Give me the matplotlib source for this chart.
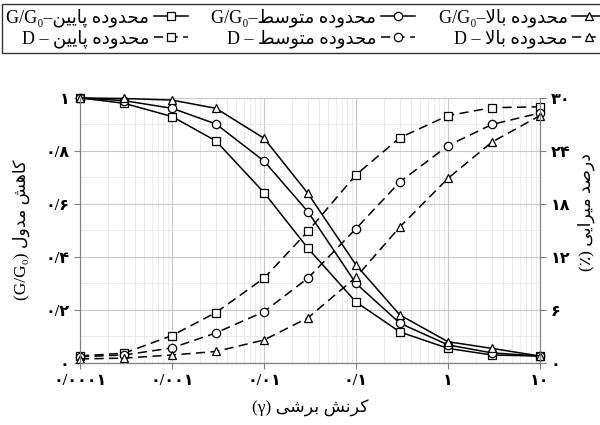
import numpy as np
import matplotlib
matplotlib.use("Agg")
import matplotlib.pyplot as plt
from matplotlib.ticker import LogLocator, NullFormatter

plt.rcParams['font.family'] = ['Liberation Serif', 'DejaVu Sans']

# کرنش برشی و مقادیر خوانده شده از نمودار
strain = [0.0001, 0.0003, 0.001, 0.003, 0.01, 0.03, 0.1, 0.3, 1, 3, 10]
gg0_low = [1.0, 0.98, 0.93, 0.838, 0.643, 0.433, 0.23, 0.117, 0.055, 0.03, 0.026]
gg0_mid = [1.0, 0.99, 0.961, 0.902, 0.762, 0.571, 0.30, 0.15, 0.068, 0.038, 0.026]
gg0_high = [1.0, 0.998, 0.992, 0.961, 0.848, 0.64, 0.37, 0.181, 0.08, 0.055, 0.026]
damp_low = [0.8, 1.1, 3.1, 5.7, 9.6, 14.9, 21.3, 25.5, 28.0, 28.9, 29.0]
damp_mid = [0.7, 0.9, 1.7, 3.4, 5.8, 9.6, 15.2, 20.5, 24.6, 27.0, 28.3]
damp_high = [0.45, 0.55, 0.9, 1.3, 2.6, 5.1, 9.7, 15.4, 20.9, 25.0, 28.0]

x_ticks = [0.0001, 0.001, 0.01, 0.1, 1, 10]
x_tick_labels = ["۰/۰۰۰۱", "۰/۰۰۱", "۰/۰۱", "۰/۱", "۱", "۱۰"]
y_ticks = [0, 0.2, 0.4, 0.6, 0.8, 1.0]
y_tick_labels = ["۰", "۰/۲", "۰/۴", "۰/۶", "۰/۸", "۱"]
d_ticks = [0, 6, 12, 18, 24, 30]
d_tick_labels = ["۰", "۶", "۱۲", "۱۸", "۲۴", "۳۰"]

# matplotlib حروف فارسی را به هم نمی چسباند، پس شکل حروف دستی انتخاب می شود
FORMS = {
    'ا': (0xFE8D, 0xFE8E), 'د': (0xFEA9, 0xFEAA),
    'ر': (0xFEAD, 0xFEAE), 'و': (0xFEED, 0xFEEE),
    'ب': (0xFE8F, 0xFE90, 0xFE91, 0xFE92), 'پ': (0xFB56, 0xFB57, 0xFB58, 0xFB59),
    'ت': (0xFE95, 0xFE96, 0xFE97, 0xFE98), 'ح': (0xFEA1, 0xFEA2, 0xFEA3, 0xFEA4),
    'س': (0xFEB1, 0xFEB2, 0xFEB3, 0xFEB4), 'ش': (0xFEB5, 0xFEB6, 0xFEB7, 0xFEB8),
    'ص': (0xFEB9, 0xFEBA, 0xFEBB, 0xFEBC), 'ط': (0xFEC1, 0xFEC2, 0xFEC3, 0xFEC4),
    'ک': (0xFB8E, 0xFB8F, 0xFB90, 0xFB91), 'ل': (0xFEDD, 0xFEDE, 0xFEDF, 0xFEE0),
    'م': (0xFEE1, 0xFEE2, 0xFEE3, 0xFEE4), 'ن': (0xFEE5, 0xFEE6, 0xFEE7, 0xFEE8),
    'ه': (0xFEE9, 0xFEEA, 0xFEEB, 0xFEEC), 'ی': (0xFBFC, 0xFBFD, 0xFBFE, 0xFBFF),
}


def fa(text):
    out = []
    i = 0
    while i < len(text):
        c = text[i]
        if c not in FORMS:
            out.append(c)
            i += 1
            continue
        prev = text[i - 1] if i > 0 else ''
        joins_prev = prev in FORMS and len(FORMS[prev]) == 4
        if c == 'ل' and text[i + 1:i + 2] == 'ا':
            out.append(chr(0xFEFC if joins_prev else 0xFEFB))
            i += 2
            continue
        nxt = text[i + 1] if i + 1 < len(text) else ''
        f = FORMS[c]
        joins_next = len(f) == 4 and nxt in FORMS
        out.append(chr(f[int(joins_prev) + 2 * int(joins_next)]))
        i += 1
    return ''.join(reversed(out))


fig = plt.figure(figsize=(6, 4.25), dpi=100)
ax = fig.add_axes([0.1333, 0.146, 0.7667, 0.6235])
ax2 = ax.twinx()

common = dict(color='black', lw=1.1, ms=6, mfc='white', mec='black', mew=0.9, clip_on=False)
l_low, = ax.plot(strain, gg0_low, marker='s', **common)
l_mid, = ax.plot(strain, gg0_mid, marker='o', **common)
l_high, = ax.plot(strain, gg0_high, marker='^', **common)
d_low, = ax2.plot(strain, damp_low, marker='s', dashes=(6, 3.5), **common)
d_mid, = ax2.plot(strain, damp_mid, marker='o', dashes=(6, 3.5), **common)
d_high, = ax2.plot(strain, damp_high, marker='^', dashes=(6, 3.5), **common)

ax.set_xscale('log')
ax.set_xlim(1e-4, 10)
ax.set_ylim(0, 1)
ax2.set_ylim(0, 30)
ax.set_xticks(x_ticks, x_tick_labels)
ax.xaxis.set_minor_locator(LogLocator(base=10, subs=np.arange(2, 10)))
ax.xaxis.set_minor_formatter(NullFormatter())
ax.set_yticks(y_ticks, y_tick_labels)
ax.set_yticks([0.1, 0.3, 0.5, 0.7, 0.9], minor=True)
ax2.set_yticks(d_ticks, d_tick_labels)

ax.grid(which='major', color='#c8c8c8', lw=0.8)
ax.grid(which='minor', color='#e8e8e8', lw=0.6)
ax.set_axisbelow(True)
for a in (ax, ax2):
    a.tick_params(which='major', length=4, width=0.8, color='#808080', labelsize=11.5)
    a.tick_params(which='minor', length=0)
    for s in a.spines.values():
        s.set_color('#808080')
    a.spines['top'].set_visible(False)
ax.spines['bottom'].set_color('#404040')
for lab in ax.get_xticklabels() + ax.get_yticklabels() + ax2.get_yticklabels():
    lab.set_fontweight('bold')

fig.text(0.035, 0.46, "(G/G₀) " + fa("کاهش مدول"), rotation=90,
         ha='center', va='center', fontsize=12.5)
fig.text(0.978, 0.50, "(٪) " + fa("درصد میرایی"), rotation=90,
         ha='center', va='center', fontsize=12.5)
fig.text(0.517, 0.04, "(γ) " + fa("کرنش برشی"), ha='center', va='center', fontsize=12.5)

handles = [l_low, d_low, l_mid, d_mid, l_high, d_high]
labels = ["G/G₀–" + fa("محدوده پایین"), "D – " + fa("محدوده پایین"),
          "G/G₀–" + fa("محدوده متوسط"), "D – " + fa("محدوده متوسط"),
          "G/G₀–" + fa("محدوده بالا"), "D – " + fa("محدوده بالا")]
leg = fig.legend(handles, labels, ncol=3, markerfirst=False, loc='upper left',
                 bbox_to_anchor=(0.003, 0.99), fontsize=13, frameon=True,
                 fancybox=False, edgecolor='black', handlelength=1.9,
                 handletextpad=0.25, columnspacing=1.3, labelspacing=0.12,
                 borderpad=0.25, borderaxespad=0)
leg.get_frame().set_linewidth(1.0)

fig.savefig("out.png", dpi=100)
